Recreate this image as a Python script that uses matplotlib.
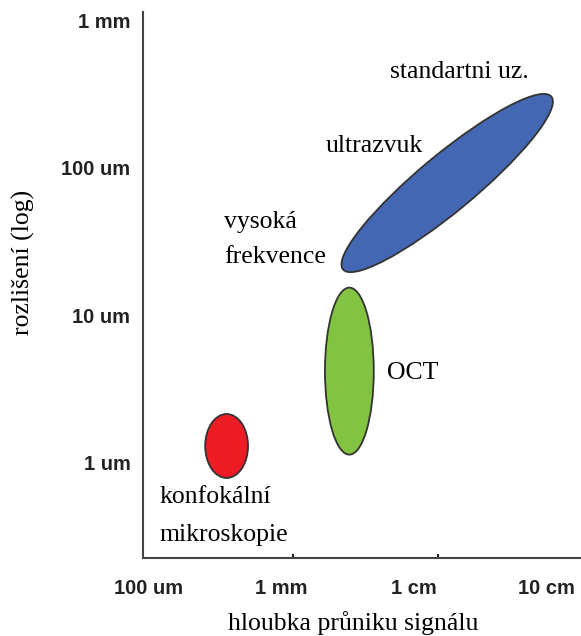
import matplotlib.pyplot as plt
from matplotlib.patches import Ellipse

# axis decades (log10 of metres) and their labels
x_ticks = [-4, -3, -2, -1]
x_labels = ['100 um', '1 mm', '1 cm', '10 cm']
y_ticks = [-6, -5, -4, -3]
y_labels = ['1 um', '10 um', '100 um', '1 mm']

# methods: centre (log depth, log resolution), width, height (decades), angle
names = ['konfokální', 'OCT', 'ultrazvuk']
centers = [(-3.41, -5.887), (-2.485, -5.379), (-1.748, -4.103)]
widths = [0.323, 0.368, 1.96]
heights = [0.434, 1.133, 0.40]
angles = [0, 0, 36.5]
colors = ['#ed1c24', '#82c341', '#4467b3']

fig = plt.figure(figsize=(5.81, 6.36), dpi=100)
ax = fig.add_axes([0.2461, 0.1226, 0.752, 0.8585])

for c, w, h, a, col in zip(centers, widths, heights, angles, colors):
    ax.add_patch(Ellipse(c, w, h, angle=a, facecolor=col,
                         edgecolor='#333333', lw=1.3))

ax.set_xlim(-4.04, -0.748)
ax.set_ylim(-6.647, -2.943)

for s in ['top', 'right']:
    ax.spines[s].set_visible(False)
for s in ['left', 'bottom']:
    ax.spines[s].set_color('#444444')
    ax.spines[s].set_linewidth(1.5)

ax.set_xticks(x_ticks)
ax.set_xticklabels(x_labels, fontfamily='Liberation Sans', fontweight='bold',
                   fontsize=14.5, color='#222222')
ax.set_yticks(y_ticks)
ax.set_yticklabels(y_labels, fontfamily='Liberation Sans', fontweight='bold',
                   fontsize=14.5, color='#222222')
ax.tick_params(axis='x', length=0, pad=15)
ax.tick_params(axis='y', length=0, pad=9)
ax.set_xticks([-2.906, -1.816], minor=True)
ax.tick_params(axis='x', which='minor', direction='in', length=3, width=1.5,
               color='#222222')

serif = dict(fontfamily='Liberation Serif', fontsize=18.5, color='black')
fig.text(0.608, 0.02, 'hloubka průniku signálu', ha='center', va='center', **serif)
fig.text(0.04, 0.588, 'rozlišení (log)', ha='center', va='center',
         rotation=90, **serif)

def px(x, y):
    return x / 581, 1 - y / 636

labels = [
    ('standartni uz.', 390, 72),
    ('ultrazvuk', 326, 146),
    ('vysoká', 224, 222),
    ('frekvence', 224, 257),
    ('OCT', 387, 373),
    ('konfokální', 160, 497),
    ('mikroskopie', 160, 535),
]
for t, x, y in labels:
    fig.text(*px(x, y), t, ha='left', va='center', **serif)

fig.savefig('out.png', dpi=100)
